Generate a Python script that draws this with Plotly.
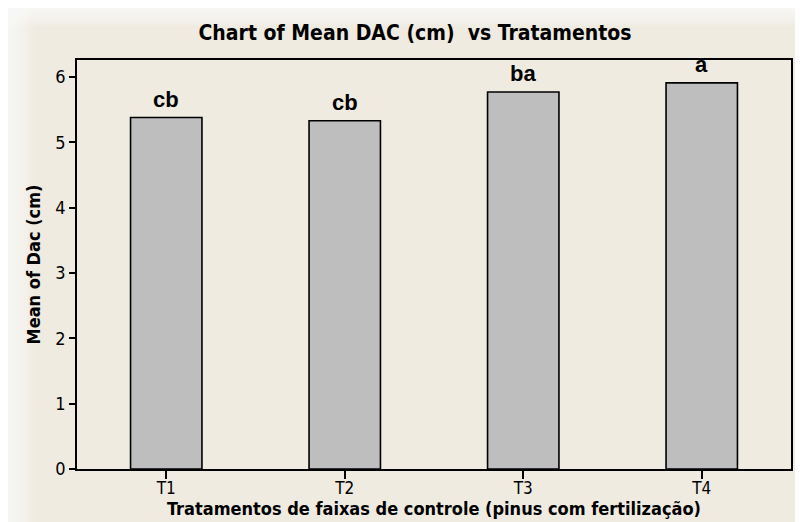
import plotly.graph_objects as go

# data
treatments = ["T1", "T2", "T3", "T4"]
mean_dac = [5.38, 5.33, 5.77, 5.91]
letters = ["cb", "cb", "ba", "a"]

BG = "#EFEBE1"
BAR = "#BEBEBE"
TXT = "#000000"
FONT = "DejaVu Sans Condensed, Tahoma, sans-serif"

# the page body adds an 8px offset, so the figure is drawn 8px smaller
W, H = 795, 514
L, R, T, B = 69, 12, 52, 53
pw, ph = W - L - R, H - T - B


def px_x(p):
    return (p - L) / pw


def px_y(p):
    return 1 - (p - T) / ph


fig = go.Figure()
fig.add_trace(go.Bar(
    x=treatments, y=mean_dac, width=0.40,
    marker=dict(color=BAR, line=dict(color="black", width=1.6)),
    hoverinfo="skip", showlegend=False,
))

for t, v, lab in zip(treatments, mean_dac, letters):
    fig.add_annotation(
        x=t, y=v, text=f"<b>{lab}</b>", showarrow=False,
        yanchor="bottom", yshift=4,
        font=dict(family="Liberation Sans, Arial", size=22, color=TXT),
    )

# soft white glow along the top and left edges of the frame
for w in range(26, 0, -2):
    fig.add_shape(type="rect", xref="paper", yref="paper", layer="below",
                  x0=px_x(0), x1=px_x(w), y0=px_y(H), y1=px_y(0),
                  line_width=0, fillcolor="white", opacity=0.09)
for h in range(18, 0, -2):
    fig.add_shape(type="rect", xref="paper", yref="paper", layer="below",
                  x0=px_x(0), x1=px_x(W), y0=px_y(h), y1=px_y(0),
                  line_width=0, fillcolor="white", opacity=0.11)

fig.update_layout(
    width=W, height=H,
    paper_bgcolor=BG, plot_bgcolor=BG,
    margin=dict(l=L, r=R, t=T, b=B, autoexpand=False),
    title=dict(
        text="<b>Chart of Mean DAC (cm)  vs Tratamentos</b>",
        x=407 / W, xanchor="center", xref="container",
        y=1 - 25 / H, yanchor="middle", yref="container",
        font=dict(family=FONT, size=21, color=TXT),
    ),
    xaxis=dict(
        range=[-0.5, 3.5], showgrid=False, zeroline=False, automargin=False,
        showline=True, linecolor="black", linewidth=1.6, mirror=True,
        ticks="outside", ticklen=8, tickcolor="black", tickwidth=1.5,
        ticklabelstandoff=-5,
        tickfont=dict(family=FONT, size=17, color=TXT),
        title=dict(text="<b>Tratamentos de faixas de controle (pinus com fertilização)</b>",
                   standoff=3,
                   font=dict(family=FONT, size=18, color=TXT)),
    ),
    yaxis=dict(
        range=[0, 6.26], tickvals=[0, 1, 2, 3, 4, 5, 6],
        showgrid=False, zeroline=False, automargin=False,
        showline=True, linecolor="black", linewidth=1.6, mirror=True,
        ticks="outside", ticklen=6, tickcolor="black", tickwidth=1.5,
        tickfont=dict(family=FONT, size=18, color=TXT),
        title=dict(text="<b>Mean of Dac (cm)</b>", standoff=10,
                   font=dict(family=FONT, size=18, color=TXT)),
    ),
)

fig.write_html("out.html")
